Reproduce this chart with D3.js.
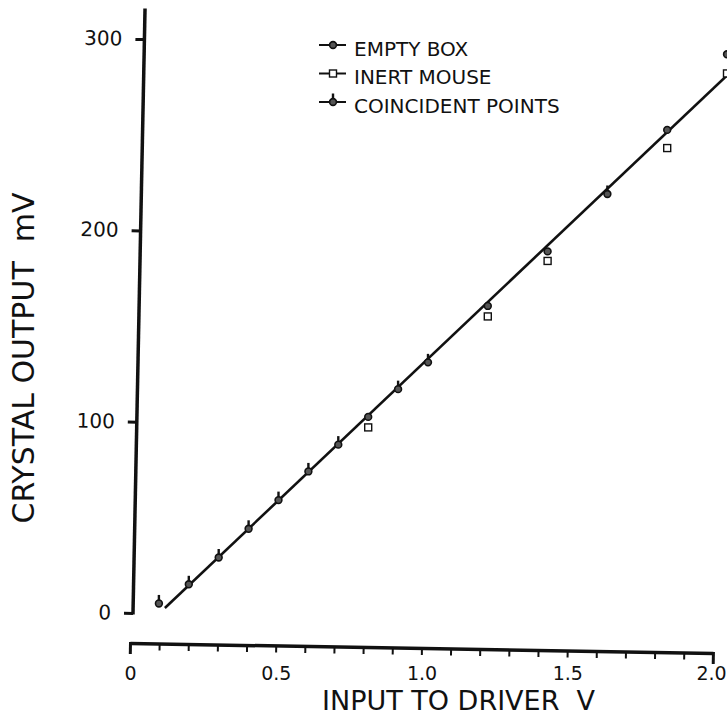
<!DOCTYPE html>
<html>
<head>
<meta charset="utf-8">
<script src="https://cdn.jsdelivr.net/npm/d3@7"></script>
<style>
  html, body { margin: 0; padding: 0; background: #fff; }
  svg { display: block; }
  text { font-family: "DejaVu Sans", sans-serif; fill: #111; }
</style>
</head>
<body>
<div id="chart"></div>
<script>
// ---- data ----
const coincidentX = [0.1, 0.2, 0.3, 0.4, 0.5, 0.6, 0.7, 0.9, 1.0, 1.6];
const coincidentY = [5, 15, 29, 44, 59, 74, 88, 117, 131, 219];
const emptyBoxX = [0.8, 1.2, 1.4, 1.8, 2.0];
const emptyBoxY = [102.5, 160.5, 189, 252.5, 292];
const inertMouseX = [0.8, 1.2, 1.4, 1.8, 2.0];
const inertMouseY = [97, 155, 184, 243, 282];
const fitX = [0.12, 2.0];
const fitY = [2.6, 281];
const yTickValues = [0, 100, 200, 300];
const xTickValues = [0, 0.5, 1.0, 1.5, 2.0];
const xMinorTicks = [0,0.1,0.2,0.3,0.4,0.5,0.6,0.7,0.8,0.9,1.0,1.1,1.2,1.3,1.4,1.5,1.6,1.7,1.8,1.9,2.0];
const legendLabels = ["EMPTY BOX", "INERT MOUSE", "COINCIDENT POINTS"];
const xTitle = "INPUT TO DRIVER  V";
const yTitle = "CRYSTAL OUTPUT  mV";

// ---- layout ----
const W = 727, H = 724;
const svg = d3.select("#chart").append("svg").attr("width", W).attr("height", H);

const x = d3.scaleLinear().domain([0, 2]).range([129, 727]);       // data placement
const xAxisScale = d3.scaleLinear().domain([0, 2]).range([130, 713]); // drawn axis
const y = d3.scaleLinear().domain([0, 300]).range([613, 39]);

const ink = "#111";

// ---- y axis (slightly tilted as in the reference) ----
const yAxisG = svg.append("g")
  .attr("transform", "rotate(1.14,133,613) translate(133,0)")
  .call(d3.axisLeft(y).tickValues(yTickValues).tickSize(9).tickPadding(13).tickFormat(d3.format("d")));
yAxisG.select(".domain").remove();
yAxisG.selectAll(".tick line").attr("stroke", ink).attr("stroke-width", 3);
yAxisG.selectAll(".tick text").attr("font-size", 20).attr("fill", ink)
  .style("font-family", '"DejaVu Sans", sans-serif');
yAxisG.append("line")
  .attr("x1", 0).attr("x2", 0)
  .attr("y1", y(0) + 1.5).attr("y2", y(316))
  .attr("stroke", ink).attr("stroke-width", 3.5);

// ---- x axis (tilted line with minor ticks, horizontal labels) ----
const xAxisG = svg.append("g")
  .attr("transform", "rotate(0.98,130,643) translate(0,643)")
  .call(d3.axisBottom(xAxisScale).tickValues(xMinorTicks).tickSize(7).tickSizeOuter(0).tickFormat(""));
xAxisG.select(".domain").attr("stroke", ink).attr("stroke-width", 3.5);
xAxisG.selectAll(".tick line").attr("stroke", ink).attr("stroke-width", 2);
xAxisG.selectAll(".tick").filter(d => Math.abs(d) < 1e-9 || Math.abs(d - 2) < 1e-9)
  .select("line").attr("y1", -1).attr("y2", 11).attr("stroke-width", 3);

const xLabG = svg.append("g")
  .attr("transform", "translate(0,666)")
  .call(d3.axisBottom(xAxisScale).tickValues(xTickValues).tickSize(0).tickPadding(0)
    .tickFormat(d => d === 0 ? "0" : d3.format(".1f")(d)));
xLabG.select(".domain").remove();
xLabG.selectAll(".tick text").attr("font-size", 19).attr("fill", ink)
  .style("font-family", '"DejaVu Sans", sans-serif');
xLabG.selectAll(".tick").filter(d => Math.abs(d - 2) < 1e-9).select("text").attr("dx", -2);

// ---- titles ----
svg.append("text")
  .attr("x", 322).attr("y", 710)
  .attr("font-size", 27)
  .style("white-space", "pre")
  .text(xTitle);

svg.append("text")
  .attr("transform", "translate(34,358) rotate(-90)")
  .attr("text-anchor", "middle")
  .attr("font-size", 30)
  .style("white-space", "pre")
  .text(yTitle);

// ---- fit line ----
const fitData = fitX.map((v, i) => [v, fitY[i]]);
svg.append("path")
  .datum(fitData)
  .attr("d", d3.line().x(d => x(d[0])).y(d => y(d[1])))
  .attr("fill", "none").attr("stroke", ink).attr("stroke-width", 2.6);

// ---- markers ----
function circleMarker(g, cx, cy) {
  g.append("circle").attr("cx", cx).attr("cy", cy).attr("r", 3.4)
    .attr("fill", "#555").attr("stroke", ink).attr("stroke-width", 1.6);
}
function squareMarker(g, cx, cy) {
  g.append("rect").attr("x", cx - 3.5).attr("y", cy - 3.5).attr("width", 7).attr("height", 7)
    .attr("fill", "#fff").attr("stroke", ink).attr("stroke-width", 1.4);
}
function coincidentMarker(g, cx, cy) {
  circleMarker(g, cx, cy);
  g.append("line").attr("x1", cx).attr("x2", cx).attr("y1", cy - 3).attr("y2", cy - 8.5)
    .attr("stroke", ink).attr("stroke-width", 2.4);
}

const ptsG = svg.append("g");
inertMouseX.forEach((v, i) => squareMarker(ptsG, x(v), y(inertMouseY[i])));
emptyBoxX.forEach((v, i) => circleMarker(ptsG, x(v), y(emptyBoxY[i])));
coincidentX.forEach((v, i) => coincidentMarker(ptsG, x(v), y(coincidentY[i])));

// ---- legend ----
const legendMarkers = [circleMarker, squareMarker, coincidentMarker];
const legG = svg.append("g");
legendLabels.forEach((lab, i) => {
  const ly = 45 + i * 28.5;
  legG.append("line").attr("x1", 319).attr("x2", 346).attr("y1", ly).attr("y2", ly)
    .attr("stroke", ink).attr("stroke-width", 2);
  legendMarkers[i](legG, 333, ly);
  legG.append("text").attr("x", 354).attr("y", ly + 10.5)
    .attr("font-size", 20).text(lab);
});
</script>
</body>
</html>
